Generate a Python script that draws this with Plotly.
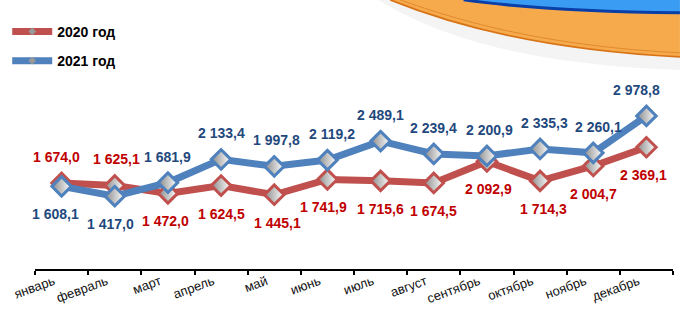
import plotly.graph_objects as go

months = ["январь", "февраль", "март", "апрель", "май", "июнь",
          "июль", "август", "сентябрь", "октябрь", "ноябрь", "декабрь"]
y2020 = [1674.0, 1625.1, 1472.0, 1624.5, 1445.1, 1741.9,
         1715.6, 1674.5, 2092.9, 1714.3, 2004.7, 2369.1]
y2021 = [1608.1, 1417.0, 1681.9, 2133.4, 1997.8, 2119.2,
         2489.1, 2239.4, 2200.9, 2335.3, 2260.1, 2978.8]
name2020 = "2020 год"
name2021 = "2021 год"

# label placement per point (style only)
side2020 = ["up", "up"] + ["down"] * 10
side2021 = ["down", "down"] + ["up"] * 10
dx2020 = [-5, 2, -2, 0, 3, -4, 0, 0, 2, 3, 0, -3]
dx2021 = [-6, -4, 0, 0, 2, 5, 0, 0, 3, 4, 5, -10]

W, H = 680, 323
ML, MR, MB = 30, 7, 54
YMAX = 3600
PX_PER_UNIT = 0.05136
PLOT_H = YMAX * PX_PER_UNIT
MT = H - MB - PLOT_H
PLOT_W = W - ML - MR

RED_LINE = "#C0504D"
BLUE_LINE = "#4F81BD"
RED_TXT = "#C00000"
BLUE_TXT = "#1F497D"
FONT = "Liberation Sans, Arial, sans-serif"


def fmt(v):
    s = f"{v:,.1f}"
    return s.replace(",", " ").replace(".", ",")


def P(x, y):
    return (x - ML) / PLOT_W, (H - MB - y) / PLOT_H


def path(cmds):
    out = []
    for c in cmds:
        if isinstance(c, str):
            out.append(c)
        else:
            px, py = P(*c)
            out.append(f"{px:.5f},{py:.5f}")
    return " ".join(out)


fig = go.Figure()

for vals, col, name in [(y2020, RED_LINE, name2020), (y2021, BLUE_LINE, name2021)]:
    fig.add_trace(go.Scatter(
        x=months, y=vals, mode="lines+markers", name=name, showlegend=False,
        line=dict(color=col, width=7),
        marker=dict(symbol="diamond", size=15, color="#8a8a8a",
                    gradient=dict(type="horizontal", color="#ffffff"),
                    line=dict(color=col, width=3)),
        hoverinfo="skip",
    ))

# legend entries
for col, name, grp in [(RED_LINE, name2020, "a"), (BLUE_LINE, name2021, "b")]:
    fig.add_trace(go.Scatter(
        x=[None], y=[None], mode="lines+markers", name=f"<b>{name}</b>",
        legendgroup=grp,
        line=dict(color=col, width=7),
        marker=dict(symbol="diamond", size=6, color="#999999",
                    line=dict(width=0)),
    ))

annotations = []
for vals, sides, dxs, col in [(y2020, side2020, dx2020, RED_TXT),
                              (y2021, side2021, dx2021, BLUE_TXT)]:
    for m, v, s, dx in zip(months, vals, sides, dxs):
        annotations.append(dict(
            x=m, y=v, xref="x", yref="y", text=f"<b>{fmt(v)}</b>",
            showarrow=False, yshift=26 if s == "up" else -28, xshift=dx,
            font=dict(family=FONT, size=14, color=col),
            xanchor="center", yanchor="middle",
        ))

shapes = [
    # shadow
    dict(type="path", xref="paper", yref="paper", layer="below",
         path=path(["M", (376, 0), "C", (440, 40), (540, 66), (680, 70),
                    "L", (680, 57), "C", (540, 50), (450, 25), (388, 0), "Z"]),
         fillcolor="rgba(0,0,0,0.045)", line=dict(width=0)),
    # blue top
    dict(type="path", xref="paper", yref="paper", layer="below",
         path=path(["M", (462, -3), "L", (462, 0), "C", (520, 8), (600, 12), (680, 13),
                    "L", (680, -3), "Z"]),
         fillcolor="#3A9CF2", line=dict(width=0)),
    # orange band
    dict(type="path", xref="paper", yref="paper", layer="below",
         path=path(["M", (388, 0), "C", (450, 25), (540, 50), (680, 57),
                    "L", (680, 13), "C", (600, 12), (520, 8), (462, 0), "Z"]),
         fillcolor="#F6AA4C", line=dict(width=0)),
    # orange lower edge
    dict(type="path", xref="paper", yref="paper", layer="below",
         path=path(["M", (388, 0), "C", (450, 25), (540, 50), (680, 57)]),
         line=dict(color="#D87418", width=1.8)),
    # inner thin orange line
    dict(type="path", xref="paper", yref="paper", layer="below",
         path=path(["M", (398, 0), "C", (460, 22), (545, 46), (680, 53)]),
         line=dict(color="#E08A2C", width=1)),
    # dark blue edge
    dict(type="path", xref="paper", yref="paper", layer="below",
         path=path(["M", (462, 0), "C", (520, 8), (600, 12), (680, 13)]),
         line=dict(color="#0A3FA8", width=3)),
]

lx, ly = P(2, 16)

fig.update_layout(
    width=W, height=H,
    margin=dict(l=ML, r=MR, t=MT, b=MB, pad=0),
    paper_bgcolor="white", plot_bgcolor="rgba(0,0,0,0)",
    font=dict(family=FONT, size=13, color="#000000"),
    showlegend=True,
    legend=dict(x=lx, y=ly, xanchor="left", yanchor="top",
                bgcolor="rgba(0,0,0,0)", traceorder="grouped",
                tracegroupgap=8, itemwidth=40,
                font=dict(family=FONT, size=14, color="#000")),
    xaxis=dict(type="category", range=[-0.5, 11.5], showgrid=False,
               showline=True, linecolor="#000000", linewidth=2,
               ticks="outside", tickson="boundaries", ticklen=4,
               tickcolor="#000000", tickwidth=1.5, tickangle=-20,
               ticklabelshift=-8, ticklabelstandoff=-2,
               tickfont=dict(family=FONT, size=13, color="#111111"),
               zeroline=False, fixedrange=True),
    yaxis=dict(range=[0, YMAX], visible=False, showgrid=False,
               zeroline=False, fixedrange=True),
    annotations=annotations,
    shapes=shapes,
)

fig.write_html("out.html")
